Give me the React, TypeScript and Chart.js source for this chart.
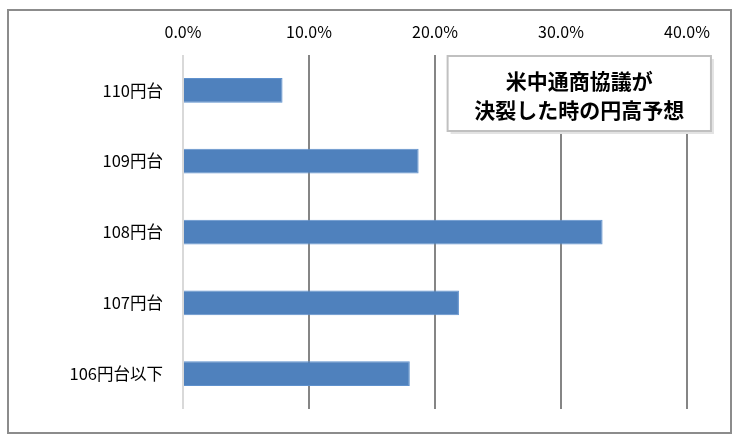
import React, { useEffect, useRef } from "react";
import { Chart, registerables } from "chart.js";

Chart.register(...registerables);

const categories = ["110円台", "109円台", "108円台", "107円台", "106円台以下"];
const values = [7.9, 18.7, 33.3, 21.9, 18.0];
const titleLines = ["米中通商協議が", "決裂した時の円高予想"];
const xTicks = [0, 10, 20, 30, 40];

const FONT = "'Noto Sans CJK JP', 'Noto Sans', sans-serif";

const decorPlugin = {
  id: "decor",
  afterDraw(chart: any) {
    const ctx = chart.ctx;
    ctx.save();
    // outer frame
    ctx.strokeStyle = "#8c8c8c";
    ctx.lineWidth = 2;
    ctx.strokeRect(8, 10, 723, 423);
    // title box
    const xs = chart.scales.x;
    const left = xs.getPixelForValue(21);
    const right = xs.getPixelForValue(41.9);
    const top = 56;
    const bottom = 131;
    ctx.fillStyle = "#e3e3e3";
    ctx.fillRect(left + 3, top + 3, right - left, bottom - top);
    ctx.fillStyle = "#ffffff";
    ctx.fillRect(left, top, right - left, bottom - top);
    ctx.strokeStyle = "#c0c0c0";
    ctx.lineWidth = 2;
    ctx.strokeRect(left, top, right - left, bottom - top);
    ctx.fillStyle = "#000000";
    ctx.font = `bold 21px ${FONT}`;
    ctx.textAlign = "center";
    ctx.textBaseline = "middle";
    const cx = (left + right) / 2;
    ctx.fillText(titleLines[0], cx, 81);
    ctx.fillText(titleLines[1], cx, 110);
    ctx.restore();
  },
};

export default function App() {
  const ref = useRef<HTMLCanvasElement>(null);
  useEffect(() => {
    document.body.style.margin = "0";
    const chart = new Chart(ref.current!, {
      type: "bar",
      data: {
        labels: categories,
        datasets: [
          {
            data: values,
            backgroundColor: "#4f81bd",
            borderColor: "#5f91cd",
            borderWidth: 1,
            barPercentage: 0.35,
            categoryPercentage: 1,
          },
        ],
      },
      options: {
        indexAxis: "y",
        responsive: false,
        animation: false,
        layout: { padding: { left: 0, right: 53, top: 0, bottom: 27 } },
        plugins: { legend: { display: false }, tooltip: { enabled: false } },
        scales: {
          x: {
            position: "top",
            min: 0,
            max: 40,
            afterBuildTicks(scale: any) {
              scale.ticks = xTicks.map((v) => ({ value: v }));
            },
            afterFit(scale: any) {
              scale.height = 55;
            },
            ticks: {
              callback: (v: any) => Number(v).toFixed(1) + "%",
              color: "#000",
              font: { family: FONT, size: 16 },
              padding: 13,
              maxRotation: 0,
            },
            grid: {
              drawTicks: false,
              lineWidth: 2,
              color: (c: any) => (c.tick && c.tick.value === 0 ? "#d9d9d9" : "#858585"),
            },
            border: { display: false },
          },
          y: {
            afterFit(scale: any) {
              scale.width = 183;
            },
            ticks: {
              color: "#000",
              font: { family: FONT, size: 16.5 },
              padding: 20,
            },
            grid: { display: false, drawTicks: false },
            border: { display: false },
          },
        },
      },
      plugins: [decorPlugin],
    });
    return () => chart.destroy();
  }, []);
  return (
    <div style={{ width: 740, height: 439 }}>
      <canvas ref={ref} width={740} height={439} />
    </div>
  );
}
